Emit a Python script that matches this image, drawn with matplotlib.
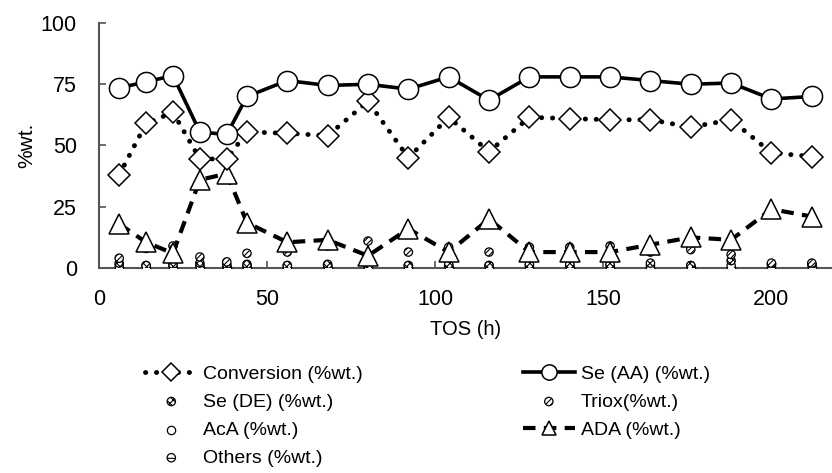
import matplotlib
matplotlib.use("Agg")
import matplotlib.pyplot as plt
from matplotlib.lines import Line2D

plt.rcParams['font.family'] = ['Liberation Sans', 'DejaVu Sans']
plt.rcParams['hatch.linewidth'] = 0.8

tos = [6, 14, 22, 30, 38, 44, 56, 68, 80, 92, 104, 116, 128, 140, 152, 164, 176, 188, 200, 212]
conversion = [38, 59, 63.5, 44.5, 44.5, 55.5, 55, 54, 68, 45, 61.5, 47.5, 61.5, 61, 60.5, 60.5, 57.5, 60.5, 47, 45.5]
se_aa = [73.5, 76, 78.5, 55.5, 54.5, 70, 76.5, 74.5, 75, 73, 78, 68.5, 78, 78, 78, 76.5, 75, 75.5, 69, 70]
ada = [18, 10.5, 6, 36, 38.5, 18.5, 10.5, 11.5, 5, 16, 6.5, 20, 6.5, 6.5, 6.5, 9.5, 12.5, 11.5, 24, 21]
triox = [4, 8, 9, 4.5, 2.5, 6, 6.5, 9, 11, 6.5, 8.5, 6.5, 8.5, 8.5, 9, 6.5, 7.5, 5.5, 2, 2]
se_de = [2, 1, 1.5, 2, 1.5, 1.5, 1, 1.5, 1, 1, 1.5, 1, 1.5, 1.5, 1.5, 2, 1, 3, 1.5, 1.5]
aca = [0, 0, 0, 0, 0, 0, 0, 0, 0, 0, 0, 0, 0, 0, 0, 0, 0, 0, 0.5, 0.5]
others = [1, 1, 1, 1, 1, 1, 1, 1, 1, 1, 1, 1, 1, 1, 1, 1, 1, 1, 1.5, 1.5]

fig = plt.figure(figsize=(8.32, 4.73), dpi=100)
ax = fig.add_axes([0.119, 0.4334, 0.881, 0.518])

small = dict(s=36, facecolor='white', edgecolor='black', linewidths=0.9, zorder=3)
h_aca = ax.scatter(tos, aca, label='AcA (%wt.)', **small)
h_oth = ax.scatter(tos, others, hatch='-', label='Others (%wt.)', **small)
h_de = ax.scatter(tos, se_de, hatch='xxxxx', label='Se (DE) (%wt.)', **small)
h_tri = ax.scatter(tos, triox, hatch='//////', label='Triox(%wt.)', **small)

ada_style = dict(color='black', lw=3, dashes=(3, 2), marker='^', mfc='white', mec='black', mew=1.1)
conv_style = dict(color='black', lw=3.5, dashes=(0.05, 2.2), dash_capstyle='round',
                  marker='D', mfc='white', mec='black', mew=1.1)
aa_style = dict(color='black', lw=2.6, marker='o', mfc='white', mec='black', mew=1.1)

ax.plot(tos, ada, ms=15, zorder=4, **ada_style)
ax.plot(tos, conversion, ms=11.5, zorder=5, **conv_style)
ax.plot(tos, se_aa, ms=14.5, zorder=6, **aa_style)

ax.set_xlim(0, 218)
ax.set_ylim(0, 100)
ax.set_xticks([0, 50, 100, 150, 200])
ax.set_yticks([0, 25, 50, 75, 100])
ax.tick_params(direction='in', labelsize=15.5, color='#555555', width=1.2, length=5)
ax.tick_params(axis='y', pad=16)
ax.tick_params(axis='x', pad=15)
for s in ['top', 'right']:
    ax.spines[s].set_visible(False)
for s in ['left', 'bottom']:
    ax.spines[s].set_color('#555555')
    ax.spines[s].set_linewidth(1.5)
ax.set_xlabel('TOS (h)', fontsize=14.5, labelpad=7)
ax.set_ylabel('%wt.', fontsize=15, labelpad=3)
ax.patch.set_alpha(0)

# legend proxies with smaller markers, like the reference
p_conv = Line2D([], [], ms=9, **conv_style)
p_aa = Line2D([], [], ms=11, **aa_style)
p_ada = Line2D([], [], ms=10, **ada_style)
handles = [p_conv, h_de, h_aca, h_oth, p_aa, h_tri, p_ada]
labels = ['Conversion (%wt.)', 'Se (DE) (%wt.)', 'AcA (%wt.)', 'Others (%wt.)',
          'Se (AA) (%wt.)', 'Triox(%wt.)', 'ADA (%wt.)']
fig.legend(handles=handles, labels=labels, ncol=2,
           loc='upper left', bbox_to_anchor=(0.165, 0.245), frameon=False,
           fontsize=14, handlelength=2.7, handletextpad=0.3, columnspacing=8.2,
           labelspacing=0.54, numpoints=1, scatterpoints=1, borderaxespad=0)

fig.savefig('out.png', dpi=100)
